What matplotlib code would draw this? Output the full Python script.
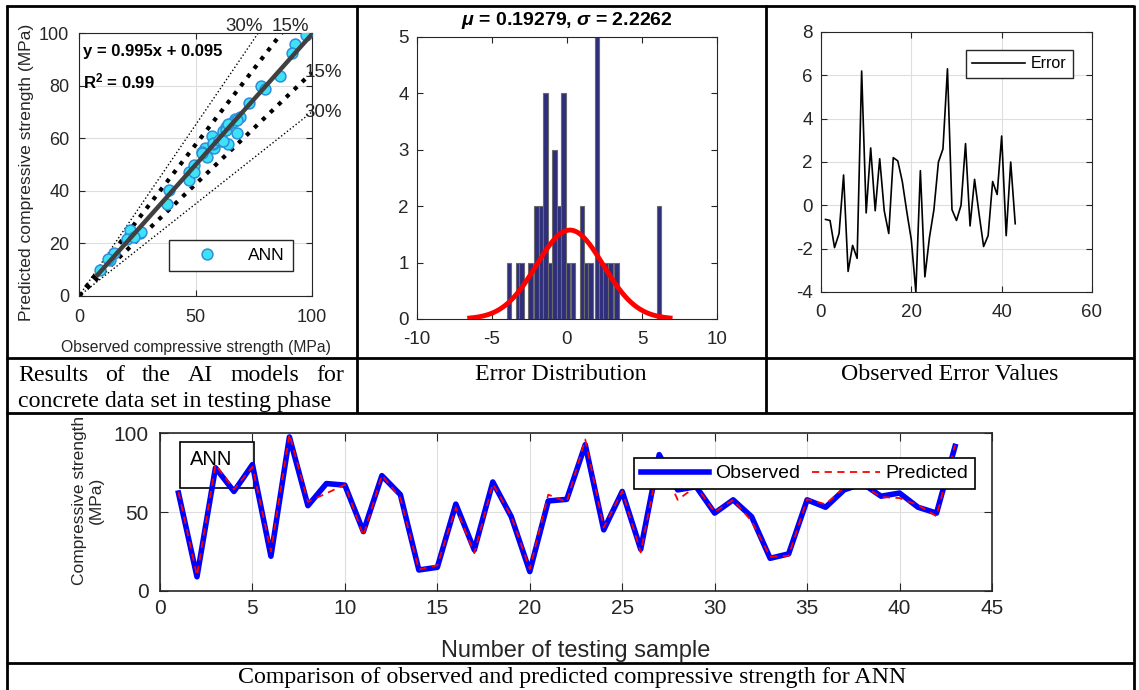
import numpy as np
import matplotlib
matplotlib.use("Agg")
import matplotlib.pyplot as plt
from matplotlib.patches import Rectangle

plt.rcParams['font.family'] = ['Liberation Sans', 'DejaVu Sans']
plt.rcParams['axes.unicode_minus'] = False
plt.rcParams['mathtext.fontset'] = 'custom'
plt.rcParams['mathtext.rm'] = 'Liberation Sans'
plt.rcParams['mathtext.it'] = 'Liberation Sans:italic:bold'
plt.rcParams['mathtext.bf'] = 'Liberation Sans:bold'

# ---------------- data ----------------
sample_no = list(range(1, 44))
observed = [62, 9, 78, 63, 80, 22, 97.5, 54, 68, 67, 37.6, 73, 61, 13.3, 15, 55, 26, 69, 47,
            12.3, 57, 58, 92.6, 38.7, 63, 26.4, 86.3, 64, 66, 49.3, 57.7, 47, 20.7, 23.5,
            57.7, 53, 64, 68, 60, 62, 53, 49.3, 91.5]
predicted = [62.65, 9.7, 79.95, 64.3, 78.6, 25.05, 99.35, 56.45, 61.8, 67.35, 34.95, 73.25,
             58.85, 13.55, 16.3, 52.8, 23.95, 67.9, 47.3, 13.9, 61.0, 56.4, 95.9, 40.2, 63.2,
             24.4, 83.7, 57.7, 66.2, 50.0, 57.7, 44.15, 21.65, 22.3, 58.1, 54.9, 65.4, 66.9,
             59.5, 58.8, 54.4, 47.3, 92.35]
errors = [-0.65, -0.7, -1.95, -1.3, 1.4, -3.05, -1.85, -2.45, 6.2, -0.35, 2.65, -0.25, 2.15,
          -0.25, -1.3, 2.2, 2.05, 1.1, -0.3, -1.6, -4.0, 1.6, -3.3, -1.5, -0.2, 2.0, 2.6, 6.3,
          -0.2, -0.7, 0.0, 2.85, -0.95, 1.2, -0.4, -1.9, -1.4, 1.1, 0.5, 3.2, -1.4, 2.0, -0.85]

hist_centers = [-3.885, -3.265, -3.035, -2.435, -2.035, -1.725, -1.435, -1.145, -0.835, -0.545,
                -0.235, 0.075, 0.385, 1.015, 1.285, 1.575, 2.015, 2.305, 2.575, 2.905, 3.305, 6.135]
hist_counts = [1, 1, 1, 1, 2, 2, 4, 1, 3, 2, 4, 1, 1, 2, 1, 1, 5, 1, 1, 1, 1, 2]
hist_width = 0.29
mu, sigma = 0.19279, 2.2262
fit_scale = 8.8

fit_slope, fit_intercept = 0.995, 0.095
fit_range = [8, 100]
band_pcts = [15, 30]

# ---------------- figure ----------------
W, H = 1139, 690
fig = plt.figure(figsize=(W / 100, H / 100), dpi=100)


def ax_at(l, t, r, b):
    return fig.add_axes([l / W, 1 - b / H, (r - l) / W, (b - t) / H])


TXT = '#262626'
GRID = '#DEDEDE'

# overlay for table lines and captions
ov = fig.add_axes([0, 0, 1, 1])
ov.set_xlim(0, W)
ov.set_ylim(H, 0)
ov.axis('off')
ov.set_zorder(5)
ov.patch.set_alpha(0)
lk = dict(color='black', lw=2.0, solid_capstyle='butt')
for yy in [6, 358, 413, 663]:
    ov.plot([6, 1134], [yy, yy], **lk)
for xx in [7, 1134]:
    ov.plot([xx, xx], [5, 690], **lk)
for xx in [357, 766]:
    ov.plot([xx, xx], [5, 413], **lk)

serif = ['Liberation Serif', 'DejaVu Serif']
cap_fs = 17.2
ov.text(561, 374, 'Error Distribution', ha='center', va='center', fontsize=cap_fs, family=serif)
ov.text(950, 374, 'Observed Error Values', ha='center', va='center', fontsize=cap_fs, family=serif)
ov.text(572, 677, 'Comparison of observed and predicted compressive strength for ANN',
        ha='center', va='center', fontsize=cap_fs, family=serif)
ov.text(18, 407, 'concrete data set in testing phase', ha='left', va='baseline',
        fontsize=cap_fs, family=serif)
words = ['Results', 'of', 'the', 'AI', 'models', 'for']
renderer = fig.canvas.get_renderer()
wt = []
for w in words:
    t = ov.text(0, 381, w, ha='left', va='baseline', fontsize=cap_fs, family=serif)
    wt.append(t)
widths = [t.get_window_extent(renderer).width for t in wt]
gap = (344 - 18 - sum(widths)) / (len(words) - 1)
xpos = 18
for t, wd in zip(wt, widths):
    t.set_x(xpos)
    xpos += wd + gap

# ---------------- scatter ----------------
ax1 = ax_at(79, 33, 312, 296)
ax1.set_xlim(0, 100)
ax1.set_ylim(0, 100)
xx = np.array([0, 100])
for p in band_pcts:
    lw = 3.0 if p == 15 else 1.0
    for s in (1, -1):
        ax1.plot(xx, xx * (1 + s * p / 100), color='black', lw=lw, ls=':', zorder=2)
fx = np.array(fit_range)
ax1.plot(fx, fit_slope * fx + fit_intercept, color='#404040', lw=3.2, zorder=4)
ax1.plot(observed, predicted, 'o', ms=7.8, mfc='#3EE2F6', mec='#2C8FDD', mew=1.1,
         label='ANN', zorder=3)
ax1.set_xticks([0, 50, 100])
ax1.set_yticks([0, 20, 40, 60, 80, 100])
ax1.grid(True, color=GRID, lw=0.8)
ax1.set_axisbelow(True)
ax1.tick_params(direction='in', top=True, right=True, labelsize=13, colors=TXT, length=4)
ax1.tick_params(axis='x', pad=9)
ax1.tick_params(axis='y', pad=7)
for sp in ax1.spines.values():
    sp.set_color(TXT)
ax1.set_xlabel('Observed compressive strength (MPa)', fontsize=11.3, color=TXT)
ax1.xaxis.set_label_coords(0.502, -0.194)
ax1.xaxis.label.set_va('center')
ax1.set_ylabel('Predicted compressive strength (MPa)', fontsize=12.6, color=TXT)
ax1.yaxis.set_label_coords(-0.227, 0.47)
ax1.yaxis.label.set_va('center')
ax1.text(1.7, 92.8, 'y = 0.995x + 0.095', fontsize=12, fontweight='bold', va='center', color='black')
ax1.text(1.7, 81.7, r'R$^{\mathbf{2}}$ = 0.99', fontsize=12, fontweight='bold', va='center', color='black')
pk = dict(fontsize=13.5, color=TXT, clip_on=False, va='baseline')
ax1.text(62.6, 100.8, '30%', **pk)
ax1.text(82.7, 100.8, '15%', **pk)
ax1.text(96.9, 84.8, '15%', fontsize=13.5, color=TXT, clip_on=False, va='center')
ax1.text(96.9, 69.6, '30%', fontsize=13.5, color=TXT, clip_on=False, va='center')
leg1 = ax1.legend(loc='lower right', bbox_to_anchor=(0.918, 0.096), fontsize=12.5,
                  fancybox=False, framealpha=1, edgecolor=TXT, handlelength=3.4,
                  handletextpad=0.7, borderpad=0.45, borderaxespad=0)
leg1.get_frame().set_linewidth(1.0)

# ---------------- histogram ----------------
ax2 = ax_at(417, 37, 717, 319)
ax2.bar(hist_centers, hist_counts, width=hist_width, color='#2E2E7C', edgecolor='#6A6A6A',
        lw=0.8, zorder=2)
gx = np.linspace(mu - 3 * sigma, mu + 3 * sigma, 200)
gy = fit_scale * np.exp(-0.5 * ((gx - mu) / sigma) ** 2) / (sigma * np.sqrt(2 * np.pi))
ax2.plot(gx, gy, color='#FF0000', lw=3.5, zorder=3)
ax2.set_xlim(-10, 10)
ax2.set_ylim(0, 5)
ax2.set_xticks([-10, -5, 0, 5, 10])
ax2.set_yticks([0, 1, 2, 3, 4, 5])
ax2.tick_params(direction='in', top=True, right=True, labelsize=13.5, colors=TXT, length=4)
ax2.tick_params(axis='x', pad=9)
ax2.tick_params(axis='y', pad=6)
for sp in ax2.spines.values():
    sp.set_color(TXT)
ax2.text(0.5, 1.058, r'$\mu$ = 0.19279, $\sigma$ = 2.2262', transform=ax2.transAxes,
         ha='center', va='center', fontsize=14, fontweight='bold')

# ---------------- error line ----------------
ax3 = ax_at(821, 32, 1092, 292)
ax3.plot(sample_no, errors, color='black', lw=1.2, label='Error')
ax3.set_xlim(0, 60)
ax3.set_ylim(-4, 8)
ax3.set_xticks([0, 20, 40, 60])
ax3.set_yticks([-4, -2, 0, 2, 4, 6, 8])
ax3.grid(True, color=GRID, lw=0.8)
ax3.set_axisbelow(True)
ax3.tick_params(direction='in', top=True, right=True, labelsize=13.5, colors=TXT, length=4)
ax3.tick_params(axis='x', pad=9)
ax3.tick_params(axis='y', pad=6)
for sp in ax3.spines.values():
    sp.set_color(TXT)
leg3 = ax3.legend(loc='upper right', bbox_to_anchor=(0.93, 0.931), fontsize=11.5,
                  fancybox=False, framealpha=1, edgecolor=TXT, handlelength=3.3,
                  handletextpad=0.4, borderpad=0.4, borderaxespad=0)
leg3.get_frame().set_linewidth(1.0)

# ---------------- bottom comparison ----------------
ax4 = ax_at(160, 433, 992, 591)
ax4.plot(sample_no, observed, color='#0000FF', lw=4, label='Observed', zorder=3)
ax4.plot(sample_no, predicted, color='#FF0000', lw=1.3, ls=(0, (4, 3)), label='Predicted', zorder=4)
ax4.set_xlim(0, 45)
ax4.set_ylim(0, 100)
ax4.set_xticks(range(0, 46, 5))
ax4.set_yticks([0, 50, 100])
ax4.grid(True, color=GRID, lw=0.8)
ax4.set_axisbelow(True)
ax4.tick_params(direction='in', top=True, right=True, labelsize=15, colors=TXT, length=6)
ax4.tick_params(axis='x', pad=6)
ax4.tick_params(axis='y', pad=8)
for sp in ax4.spines.values():
    sp.set_color(TXT)
    sp.set_linewidth(1.2)
ax4.set_xlabel('Number of testing sample', fontsize=17, color=TXT)
ax4.xaxis.set_label_coords(0.5, -0.38)
ax4.xaxis.label.set_va('center')
ax4.set_ylabel('Compressive strength\n(MPa)', fontsize=12.5, color=TXT, linespacing=1.15)
ax4.yaxis.set_label_coords(-0.087, 0.573)
ax4.yaxis.label.set_va('center')
ax4.add_patch(Rectangle((1.08, 65.3), 4.0, 29.2, fill=False, edgecolor='black', lw=1.2, zorder=2))
ax4.text(1.6, 83, 'ANN', fontsize=14.5, va='center', ha='left', color='black', zorder=2)
leg4 = ax4.legend(loc='upper right', bbox_to_anchor=(0.98, 0.842), ncol=2, fontsize=14,
                  fancybox=False, framealpha=1, edgecolor='black', handlelength=3.5,
                  handletextpad=0.3, columnspacing=0.6, borderpad=0.35, borderaxespad=0)
leg4.get_frame().set_linewidth(1.2)
leg4.set_zorder(10)

fig.savefig('out.png', dpi=100)
